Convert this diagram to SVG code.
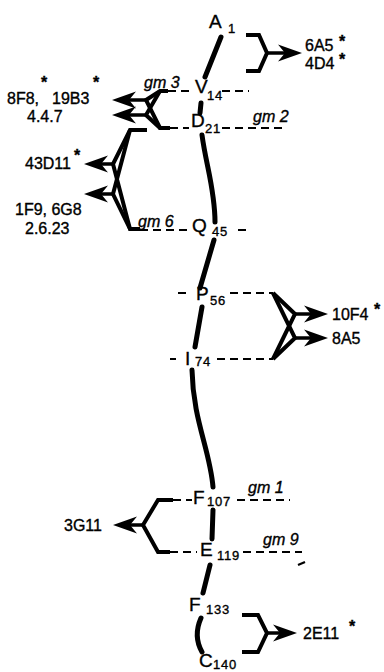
<svg xmlns="http://www.w3.org/2000/svg" width="384" height="672" viewBox="0 0 384 672">
<defs>
<marker id="ah" markerUnits="userSpaceOnUse" viewBox="0 -9 26 18" markerWidth="26" markerHeight="18" refX="14" refY="0" orient="auto"><path d="M0,-8.5 L24,0 L0,8.5 L7,0 Z" fill="#000"/></marker>
</defs>
<style>
text{font-family:"Liberation Sans",Arial,sans-serif;fill:#000;stroke:#000;stroke-width:0.35}
.res{font-size:19px}
.sub{font-size:13px;letter-spacing:0.8px}
.lab{font-size:16px}
.star{font-size:16px;font-weight:bold}
.gm{font-size:16px;font-style:italic}
.bb{fill:none;stroke:#000;stroke-width:5;stroke-linecap:round}
.br{fill:none;stroke:#000;stroke-width:4;stroke-linejoin:miter}
.dash{stroke:#000;stroke-width:2;stroke-dasharray:8 5;fill:none}
.arr{stroke:#000;stroke-width:3.5;marker-end:url(#ah)}
</style>
<rect width="384" height="672" fill="#fff"/>
<g id="connectors">
  <path class="bb" d="M221,37 L205,77"/>
  <path class="bb" d="M201,103 L200,113"/>
  <path class="bb" d="M202,135 C206,165 215,190 215,222"/>
  <path class="bb" d="M214,240 L200,288"/>
  <path class="bb" d="M202,307 L195,347"/>
  <path class="bb" d="M192,370 C193,420 210,450 213,487"/>
  <path class="bb" d="M213,510 L212,539"/>
  <path class="bb" d="M210,565 L203,593"/>
  <path class="bb" d="M201,618 Q193,636 202,652"/>
  <line class="dash" x1="168" y1="91" x2="194" y2="91"/>
  <line class="dash" x1="222" y1="91" x2="249" y2="91"/>
  <line class="dash" x1="170" y1="128" x2="189" y2="128"/>
  <line class="dash" x1="222" y1="128" x2="282" y2="128"/>
  <line class="dash" x1="140" y1="230" x2="190" y2="230"/>
  <line class="dash" x1="238" y1="230" x2="248" y2="230"/>
  <line class="dash" x1="178" y1="293" x2="190" y2="293"/>
  <line class="dash" x1="230" y1="293" x2="273" y2="293"/>
  <line class="dash" x1="170" y1="359" x2="176" y2="359"/>
  <line class="dash" x1="217" y1="359" x2="273" y2="359"/>
  <line class="dash" x1="173" y1="500" x2="192" y2="500"/>
  <line class="dash" x1="237" y1="500" x2="290" y2="500"/>
  <line class="dash" x1="170" y1="552" x2="197" y2="552"/>
  <line class="dash" x1="243" y1="552" x2="302" y2="552"/>
  <path d="M298,565 L305,562" stroke="#000" stroke-width="2.2" fill="none"/>
  <path class="br" d="M246,35 H259 L267,53 L259,71 H246"/>
  <line class="arr" x1="267" y1="53" x2="292" y2="53"/>
  <path class="br" d="M168,91 H160 L146,100 L160,128 H170"/>
  <path class="br" d="M160,91 L146,115 L160,128"/>
  <line class="arr" x1="146" y1="100" x2="122" y2="100"/>
  <line class="arr" x1="146" y1="115" x2="122" y2="115"/>
  <path class="br" d="M147,130 H130 L113,164 L130,229 H140"/>
  <path class="br" d="M130,130 L113,194 L130,229"/>
  <line class="arr" x1="113" y1="164" x2="94" y2="164"/>
  <line class="arr" x1="113" y1="194" x2="94" y2="194"/>
  <path class="br" d="M273,293 L295,314 L273,359"/>
  <path class="br" d="M273,293 L295,338 L273,359"/>
  <line class="arr" x1="295" y1="314" x2="318" y2="314"/>
  <line class="arr" x1="295" y1="338" x2="318" y2="338"/>
  <path class="br" d="M173,500 H158 L143,525 L158,552 H170"/>
  <line class="arr" x1="143" y1="525" x2="123" y2="525"/>
  <path class="br" d="M242,615 H258 L267,633 L258,652 H242"/>
  <line class="arr" x1="267" y1="633" x2="287" y2="633"/>
</g>
<g id="res-A1"><text class="res" x="209" y="28">A</text><text class="sub" x="228" y="33">1</text></g>
<g id="res-V14"><text class="res" x="195" y="93">V</text><text class="sub" x="207" y="100">14</text></g>
<g id="res-D21"><text class="res" x="191" y="127">D</text><text class="sub" x="205" y="133">21</text></g>
<g id="res-Q45"><text class="res" x="192" y="232">Q</text><text class="sub" x="212" y="236">45</text></g>
<g id="res-P56"><text class="res" x="196" y="300">P</text><text class="sub" x="210" y="305">56</text></g>
<g id="res-I74"><text class="res" x="185" y="365">I</text><text class="sub" x="195" y="366">74</text></g>
<g id="res-F107"><text class="res" x="193" y="504">F</text><text class="sub" x="207" y="506">107</text></g>
<g id="res-E119"><text class="res" x="200" y="556">E</text><text class="sub" x="217" y="560">119</text></g>
<g id="res-F133"><text class="res" x="189" y="611">F</text><text class="sub" x="206" y="614">133</text></g>
<g id="res-C140"><text class="res" x="199" y="667">C</text><text class="sub" x="213" y="669">140</text></g>
<g id="gm-labels">
  <text class="gm" x="144" y="88">gm 3</text>
  <text class="gm" x="253" y="122">gm 2</text>
  <text class="gm" x="138" y="227">gm 6</text>
  <text class="gm" x="248" y="493">gm 1</text>
  <text class="gm" x="263" y="545">gm 9</text>
</g>
<g id="ab-6A5-4D4"><text class="lab" x="305" y="51">6A5</text><text class="star" x="339" y="47">*</text><text class="lab" x="305" y="69">4D4</text><text class="star" x="339" y="65">*</text></g>
<g id="ab-8F8-19B3"><text class="lab" x="7" y="104">8F8,</text><text class="star" x="41" y="88">*</text><text class="lab" x="52" y="104">19B3</text><text class="star" x="93" y="88">*</text><text class="lab" x="27" y="122">4.4.7</text></g>
<g id="ab-43D11"><text class="lab" x="25" y="169">43D11</text><text class="star" x="74" y="161">*</text></g>
<g id="ab-1F9-6G8"><text class="lab" x="15" y="215">1F9, 6G8</text><text class="lab" x="25" y="234">2.6.23</text></g>
<g id="ab-10F4"><text class="lab" x="332" y="320">10F4</text><text class="star" x="374" y="315">*</text></g>
<g id="ab-8A5"><text class="lab" x="332" y="344">8A5</text></g>
<g id="ab-3G11"><text class="lab" x="64" y="531">3G11</text></g>
<g id="ab-2E11"><text class="lab" x="303" y="639">2E11</text><text class="star" x="349" y="632">*</text></g>
</svg>
